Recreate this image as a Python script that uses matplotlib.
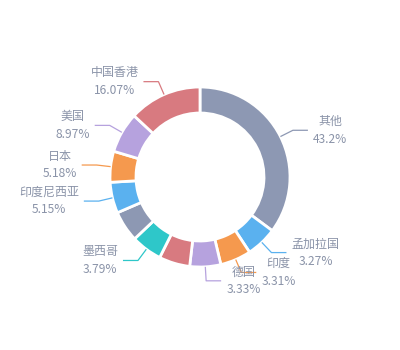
import numpy as np
import matplotlib
matplotlib.use("Agg")
import matplotlib.pyplot as plt

plt.rcParams['font.family'] = ['Noto Sans CJK SC', 'DejaVu Sans']

# ---- data ----
names = ['其他', '孟加拉国', '印度', '德国', '巴西', '墨西哥', '越南',
         '印度尼西亚', '日本', '美国', '中国香港']
values = [43.2, 3.27, 3.31, 3.33, 3.9, 3.79, 3.83, 5.15, 5.18, 8.97, 16.07]
show_label = [True, True, True, True, False, True, False, True, True, True, True]
pct_labels = ['43.2%', '3.27%', '3.31%', '3.33%', '', '3.79%', '', '5.15%',
              '5.18%', '8.97%', '16.07%']

# ---- style ----
palette = ['#8d98b3', '#5ab1ef', '#f5994e', '#b6a2de', '#d87a80', '#2ec7c9']
colors = [palette[i % len(palette)] for i in range(len(values))]
text_color = '#8a93a8'
MIN_ANGLE = 20.0

# ECharts-like minAngle layout
vals = np.array(values, dtype=float)
angles = vals / vals.sum() * 360.0
small = angles < MIN_ANGLE
rest = 360.0 - MIN_ANGLE * small.sum()
angles = np.where(small, MIN_ANGLE, vals / vals[~small].sum() * rest)

W, H = 400, 350
fig = plt.figure(figsize=(W / 100, H / 100), dpi=100)
ax = fig.add_axes([0, 0, 1, 1])

cx, cy = 200, H - 177
R, Rin = 90, 64
ax.pie(angles, colors=colors, center=(cx, cy), radius=R, startangle=90,
       counterclock=False,
       wedgeprops=dict(width=R - Rin, edgecolor='white', linewidth=2))

L1, L2, GAP = 14, 15, 5
start = 90.0
for i, a in enumerate(angles):
    mid = np.deg2rad(start - a / 2)
    start -= a
    if not show_label[i]:
        continue
    c, s = np.cos(mid), np.sin(mid)
    p0 = (cx + R * c, cy + R * s)
    p1 = (cx + (R + L1) * c, cy + (R + L1) * s)
    sign = 1 if c >= 0 else -1
    p2 = (p1[0] + sign * L2, p1[1])
    ax.plot([p0[0], p1[0], p2[0]], [p0[1], p1[1], p2[1]], color=colors[i],
            lw=0.9, solid_capstyle='butt')
    ax.text(p2[0] + sign * GAP, p2[1], names[i] + '\n' + pct_labels[i],
            ha='left' if sign > 0 else 'right', va='center',
            multialignment='center', fontsize=8.64, color=text_color,
            linespacing=1.45)

ax.set_xlim(0, W)
ax.set_ylim(0, H)
ax.set_aspect('equal')
ax.set_axis_off()
fig.savefig('out.png', dpi=100, facecolor='white')
